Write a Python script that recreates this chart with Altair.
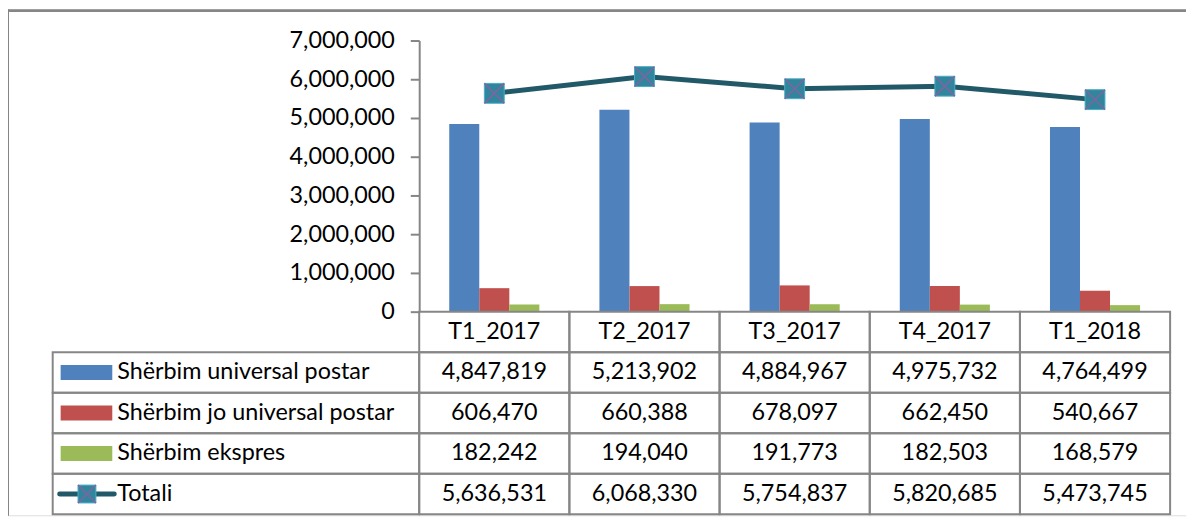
import altair as alt
import pandas as pd

# ---------------- data ----------------
categories = ["T1_2017", "T2_2017", "T3_2017", "T4_2017", "T1_2018"]
universal = [4847819, 5213902, 4884967, 4975732, 4764499]
jo_universal = [606470, 660388, 678097, 662450, 540667]
ekspres = [182242, 194040, 191773, 182503, 168579]
totali = [5636531, 6068330, 5754837, 5820685, 5473745]
series_names = ["Shërbim universal postar", "Shërbim jo universal postar", "Shërbim ekspres"]
total_name = "Totali"
series_colors = ["#4F81BD", "#C0504D", "#9BBB59"]
y_ticks = [0, 1000000, 2000000, 3000000, 4000000, 5000000, 6000000, 7000000]

# ---------------- layout / style ----------------
W, H = 1186, 509
AXIS_X = 414
TABLE_LEFT = 45
TABLE_RIGHT = 1170
Y0 = 304
Y_TOP = 31
TABLE_BOTTOM = 508
FONT = "Lato"
FS = 23.5
GRAY = "#868686"
LINE_COLOR = "#215968"
MARK_FILL = "#31859C"
MARK_EDGE = "#4BACC6"
X_COLOR = "#8064A2"

series_values = [universal, jo_universal, ekspres]
HDR = "hdr"
row_keys = [HDR] + series_names + [total_name]

bar_df = pd.DataFrame(
    [{"category": c, "series": s, "value": v}
     for s, vals in zip(series_names, series_values)
     for c, v in zip(categories, vals)]
)
tot_df = pd.DataFrame({"category": categories, "value": totali})

table_rows = []
for c in categories:
    table_rows.append({"category": c, "row": HDR, "label": c})
for s, vals in zip(series_names + [total_name], series_values + [totali]):
    for c, v in zip(categories, vals):
        table_rows.append({"category": c, "row": s, "label": f"{v:,}"})
table_df = pd.DataFrame(table_rows)

legend_df = pd.DataFrame({"row": series_names + [total_name], "series": series_names + [total_name]})
legend_bar_df = pd.DataFrame({"row": series_names, "series": series_names})
legend_tot_df = pd.DataFrame({"row": [total_name]})

x_scale = alt.Scale(domain=categories, range=[AXIS_X, TABLE_RIGHT], paddingInner=0, paddingOuter=0)
y_scale = alt.Scale(domain=[0, 7000000], range=[Y0, Y_TOP], nice=False, zero=True)
row_scale = alt.Scale(domain=row_keys, range=[Y0, TABLE_BOTTOM], paddingInner=0, paddingOuter=0)
color_scale = alt.Scale(domain=series_names, range=series_colors)

X = alt.X("category:N", scale=x_scale, axis=None, sort=categories)
ROW = alt.Y("row:N", scale=row_scale, axis=None, sort=row_keys)

bars = alt.Chart(bar_df).mark_bar().encode(
    x=X,
    xOffset=alt.XOffset("series:N", sort=series_names,
                        scale=alt.Scale(domain=series_names, paddingInner=0, paddingOuter=1)),
    y=alt.Y("value:Q", scale=y_scale,
            axis=alt.Axis(values=y_ticks, format=",d", offset=-AXIS_X, title=None, grid=False,
                          domainColor=GRAY, domainWidth=2, tickColor=GRAY, tickWidth=2,
                          tickSize=9, labelPadding=16, labelFont=FONT, labelFontSize=FS,
                          labelColor="black")),
    color=alt.Color("series:N", scale=color_scale, legend=None),
)

line = alt.Chart(tot_df).mark_line(color=LINE_COLOR, strokeWidth=5).encode(
    x=X, y=alt.Y("value:Q", scale=y_scale, axis=None)
)
pts = alt.Chart(tot_df).mark_point(shape="square", filled=True, fill=MARK_FILL, stroke=MARK_EDGE,
                                   strokeWidth=1, size=400, opacity=1).encode(
    x=X, y=alt.Y("value:Q", scale=y_scale, axis=None)
)
xs = alt.Chart(tot_df).mark_point(shape="M-1,-1L1,1M1,-1L-1,1", filled=False, stroke=X_COLOR,
                                  strokeWidth=1.5, size=400, opacity=1).encode(
    x=X, y=alt.Y("value:Q", scale=y_scale, axis=None)
)

cells = alt.Chart(table_df).mark_rect(fill="transparent", stroke=GRAY, strokeWidth=2).encode(
    x=X, y=ROW
)
leg_cells = alt.Chart(legend_df).mark_rect(fill="transparent", stroke=GRAY, strokeWidth=2).encode(
    x=alt.value(TABLE_LEFT), x2=alt.value(AXIS_X), y=ROW
)
cell_text = alt.Chart(table_df).mark_text(font=FONT, fontSize=FS, color="black",
                                          align="center", baseline="middle").encode(
    x=X, y=ROW, text="label:N"
)
leg_swatch = alt.Chart(legend_bar_df).mark_rule(strokeWidth=15, strokeCap="butt").encode(
    x=alt.value(53), x2=alt.value(105), y=ROW,
    color=alt.Color("series:N", scale=color_scale, legend=None),
)
leg_line = alt.Chart(legend_tot_df).mark_rule(strokeWidth=5, strokeCap="round", color=LINE_COLOR).encode(
    x=alt.value(52), x2=alt.value(107), y=ROW
)
leg_pt = alt.Chart(legend_tot_df).mark_point(shape="square", filled=True, fill=MARK_FILL, stroke=MARK_EDGE,
                                             strokeWidth=1, size=324, opacity=1).encode(
    x=alt.value(79.5), y=ROW
)
leg_x = alt.Chart(legend_tot_df).mark_point(shape="M-1,-1L1,1M1,-1L-1,1", filled=False, stroke=X_COLOR,
                                            strokeWidth=1.5, size=324, opacity=1).encode(
    x=alt.value(79.5), y=ROW
)
leg_text = alt.Chart(legend_df).mark_text(font=FONT, fontSize=FS, color="black",
                                          align="left", baseline="middle").encode(
    x=alt.value(110), y=ROW, text="series:N"
)

frame_left = alt.Chart(tot_df).mark_rule(color=GRAY, strokeWidth=2).encode(
    x=alt.value(0), y=alt.value(0), y2=alt.value(H)
)
frame_top = alt.Chart(tot_df).mark_rule(color=GRAY, strokeWidth=2).encode(
    x=alt.value(0), x2=alt.value(W), y=alt.value(1)
)

chart = alt.layer(
    frame_left, frame_top, bars, cells, leg_cells, cell_text,
    leg_swatch, leg_line, leg_pt, leg_x, leg_text, line, pts, xs,
).resolve_scale(y="independent").properties(
    width=W, height=H, padding=0,
    autosize=alt.AutoSizeParams(type="none"),
).configure_view(stroke=None).configure(background="white")

chart.save("out.html", embed_options={"renderer": "svg", "actions": False})
